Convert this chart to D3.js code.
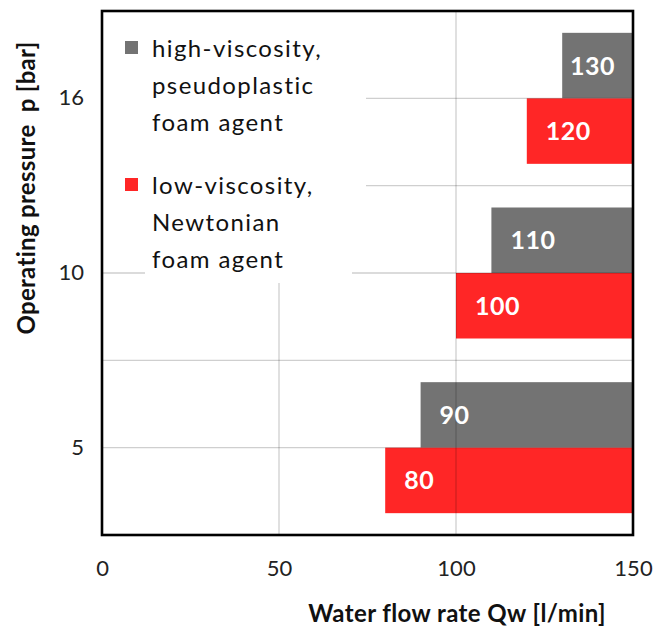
<!DOCTYPE html>
<html><head><meta charset="utf-8">
<script src="https://cdn.jsdelivr.net/npm/d3@7"></script>
<style>body{margin:0;background:#fff;} svg{display:block;font-family:Lato,"Noto Sans",sans-serif;}</style>
</head><body>
<svg id="c" width="659" height="631"></svg>
<script>
const categories = ["16", "10", "5"];
const highVisc = [130, 110, 90];
const lowVisc = [120, 100, 80];
const xTicks = [0, 50, 100, 150];
const seriesNames = ["high", "low"];
const legendHigh = ["high-viscosity,", "pseudoplastic", "foam agent"];
const legendLow = ["low-viscosity,", "Newtonian", "foam agent"];
const colors = {high: "#737373", low: "#ff2626"};

const svg = d3.select("#c");
const L = 102, R = 633, T = 11, B = 535;
const x = d3.scaleLinear().domain([0, 150]).range([L, R]);
const y = d3.scaleBand().domain(categories).range([T, B]).padding(0);
const step = y.step();
const ys = d3.scaleBand().domain(seriesNames).range([step * 0.125, step * 0.875]).padding(0);

const rows = categories.map((c, i) => ({c, high: highVisc[i], low: lowVisc[i]}));

// bars
const g = svg.append("g");
rows.forEach(r => {
  seriesNames.forEach(s => {
    g.append("rect")
      .attr("x", x(r[s])).attr("y", y(r.c) + ys(s))
      .attr("width", x(150) - x(r[s])).attr("height", ys.bandwidth())
      .attr("fill", colors[s]);
  });
});

// grid lines (over bars, translucent)
const grid = svg.append("g").attr("stroke", "rgba(0,0,0,0.19)").attr("stroke-width", 1.3);
[50, 100].forEach(v => grid.append("line").attr("x1", x(v)).attr("x2", x(v)).attr("y1", T).attr("y2", B));
const hLines = [];
categories.forEach((c, i) => {
  hLines.push(y(c) + step / 2);
  if (i > 0) hLines.push(y(c));
});
hLines.forEach(v => grid.append("line").attr("x1", L).attr("x2", R).attr("y1", v).attr("y2", v));

// value labels
rows.forEach(r => {
  seriesNames.forEach(s => {
    const t = svg.append("text")
      .attr("y", y(r.c) + ys(s) + ys.bandwidth() / 2)
      .attr("dy", "0.36em")
      .attr("fill", "#fff").attr("font-weight", "bold").attr("font-size", 25)
      .attr("letter-spacing", 0.5)
      .text(r[s]);
    const w = t.node().getComputedTextLength();
    t.attr("x", Math.min(x(r[s]) + 19, x(150) - w - 18));
  });
});

// legend background
svg.append("rect").attr("x", L + 1).attr("y", T + 1).attr("width", 263).attr("height", 251).attr("fill", "#fff");
svg.append("rect").attr("x", 145).attr("y", 262).attr("width", 207).attr("height", 21).attr("fill", "#fff");

// legend
const legend = [{s: "high", lines: legendHigh, y0: 48}, {s: "low", lines: legendLow, y0: 185}];
legend.forEach(lg => {
  svg.append("rect").attr("x", 125).attr("y", lg.y0 - 7).attr("width", 13).attr("height", 13).attr("fill", colors[lg.s]);
  lg.lines.forEach((t, i) => {
    svg.append("text").attr("x", 152).attr("y", lg.y0 + i * 37).attr("dy", "0.36em")
      .attr("font-size", 24).attr("letter-spacing", 1.4).attr("fill", "#111").text(t);
  });
});

// frame
svg.append("rect").attr("x", L).attr("y", T).attr("width", R - L).attr("height", B - T)
  .attr("fill", "none").attr("stroke", "#000").attr("stroke-width", 2.6);

// axes
const xa = svg.append("g").attr("transform", `translate(0,${B})`)
  .call(d3.axisBottom(x).tickValues(xTicks).tickSize(0).tickPadding(25));
xa.select(".domain").remove();
xa.selectAll("text").attr("font-size", 22).attr("fill", "#222").attr("font-family", "Lato,'Noto Sans',sans-serif");

const ya = svg.append("g").attr("transform", `translate(${L},0)`)
  .call(d3.axisLeft(y).tickSize(0).tickPadding(18));
ya.select(".domain").remove();
ya.selectAll("text").attr("font-size", 22).attr("fill", "#222").attr("font-family", "Lato,'Noto Sans',sans-serif");

// titles
svg.append("text").attr("x", 457).attr("y", 613).attr("dy", "0.36em").attr("text-anchor", "middle")
  .attr("font-weight", "bold").attr("font-size", 24).attr("letter-spacing", 0.4).attr("fill", "#111").text("Water flow rate Qw [l/min]");
svg.append("text").attr("transform", "translate(26,188) rotate(-90)").attr("dy", "0.36em").attr("text-anchor", "middle")
  .attr("font-weight", "bold").attr("font-size", 24).attr("letter-spacing", 0.3).attr("fill", "#111")
  .style("white-space", "pre").text("Operating pressure  p [bar]");
</script>
</body></html>
